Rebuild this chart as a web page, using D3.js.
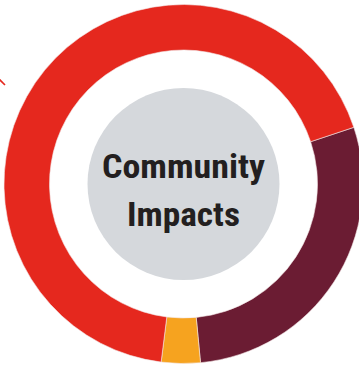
<!DOCTYPE html>
<html>
<head>
<meta charset="utf-8">
<script src="https://cdn.jsdelivr.net/npm/d3@7"></script>
<style>
  html, body { margin: 0; padding: 0; background: #fff; }
  svg { display: block; }
</style>
</head>
<body>
<svg class="chart"></svg>
<script>
var categories = ["Maroon", "Orange", "Red"];
var values = [28.6, 3.5, 67.9];
var colors = ["#6b1c33", "#f6a31f", "#e5281e"];
var titleLines = ["Community", "Impacts"];

var width = 359, height = 370;
var cx = 183.5, cy = 184,
    outerR = 179.5, innerR = 134, hubR = 96;

var svg = d3.select('.chart')
  .attr('width', width)
  .attr('height', height);

// little leader-line stub at the left edge
svg.append('line')
  .attr('x1', -6).attr('y1', 74)
  .attr('x2', 5).attr('y2', 85)
  .style('stroke', '#e5281e')
  .style('stroke-width', 1.6);

var g = svg.append('g')
  .attr('transform', 'translate(' + cx + ',' + cy + ')');

var start = 71.6 * Math.PI / 180;
var pie = d3.pie()
  .sort(null)
  .startAngle(start)
  .endAngle(start + 2 * Math.PI)
  .value(function(d){ return d; });

var arc = d3.arc()
  .innerRadius(innerR)
  .outerRadius(outerR);

g.selectAll('.slice')
  .data(pie(values))
  .enter()
  .append('path')
  .attr('class', 'slice')
  .attr('d', arc)
  .style('fill', function(d, i){ return colors[i]; })
  .style('stroke', '#f4e6e6')
  .style('stroke-width', 0.6);

g.append('circle')
  .attr('r', hubR)
  .style('fill', '#d5d8dc');

var label = g.append('text')
  .attr('text-anchor', 'middle')
  .style('font-family', '"Liberation Sans Narrow", "Roboto Condensed", "DejaVu Sans Condensed", Roboto, sans-serif')
  .style('font-weight', 'bold')
  .style('font-size', '33px')
  .style('fill', '#231f20');

label.selectAll('tspan')
  .data(titleLines)
  .enter()
  .append('tspan')
  .attr('x', 0)
  .attr('y', function(d, i){ return i === 0 ? -6 : 42; })
  .text(function(d){ return d; });

// squeeze/stretch to the measured widths in the picture
var wanted = [163, 113];
label.selectAll('tspan').each(function(d, i){
  var len = this.getComputedTextLength();
  if (Math.abs(len - wanted[i]) > 3)
    d3.select(this).attr('textLength', wanted[i]).attr('lengthAdjust', 'spacingAndGlyphs');
});
</script>
</body>
</html>
